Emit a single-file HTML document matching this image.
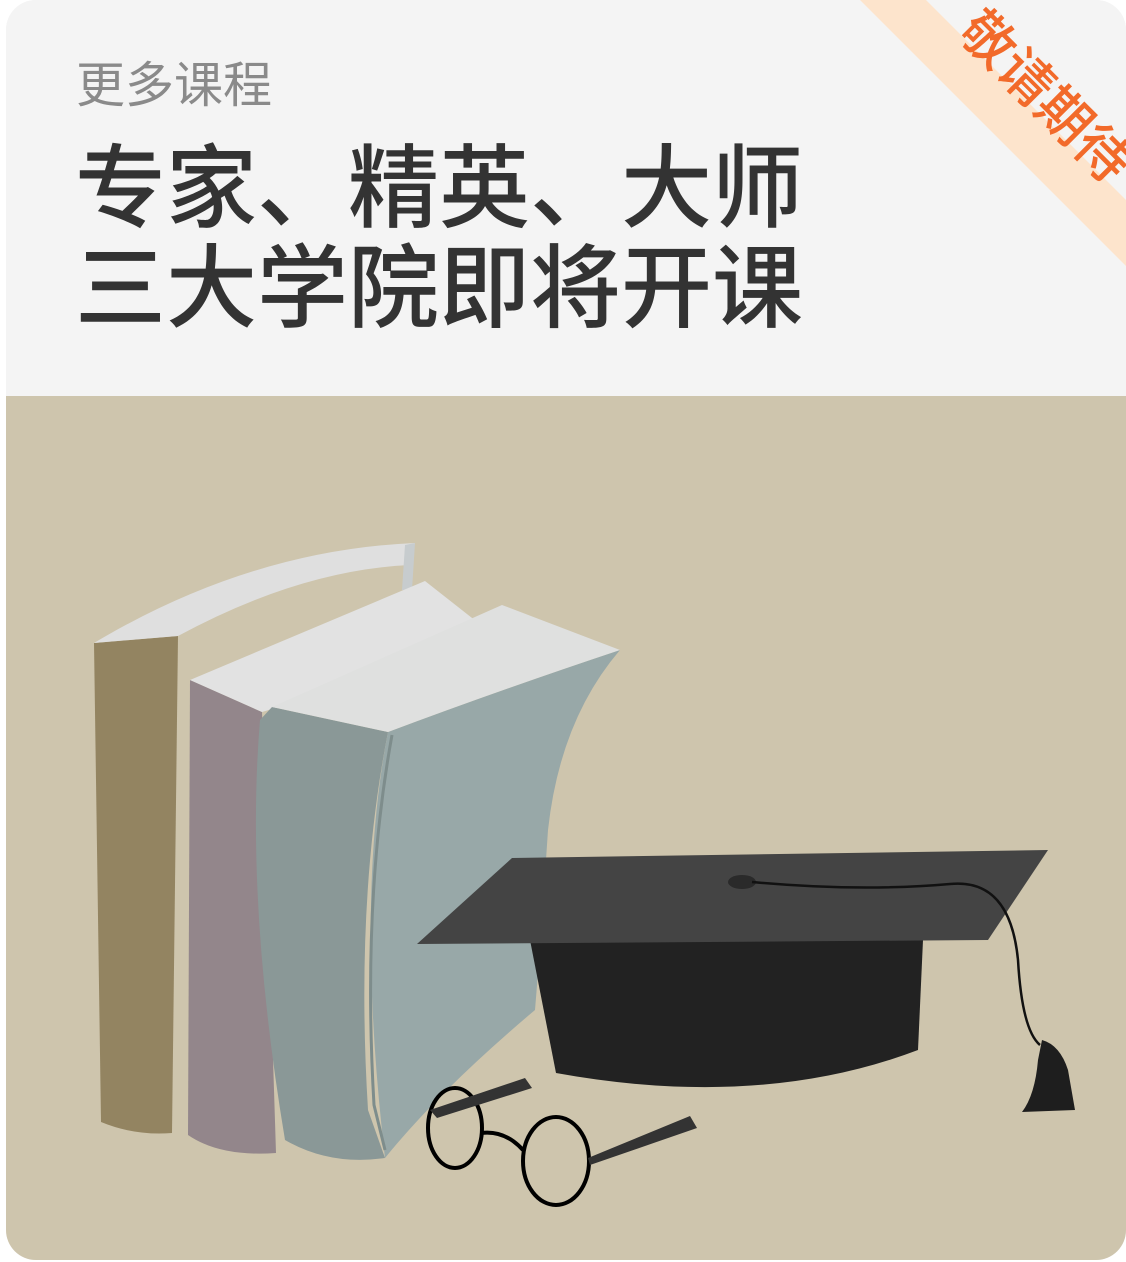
<!DOCTYPE html>
<html><head><meta charset="utf-8">
<style>
html,body{margin:0;padding:0;background:#fff;}
body{width:1126px;height:1262px;position:relative;overflow:hidden;font-family:"Liberation Sans","Noto Sans CJK SC",sans-serif;}
#card{position:absolute;left:6px;top:0;width:1120px;height:1260px;border-radius:30px;overflow:hidden;background:#f4f4f4;}
#top{position:absolute;left:0;top:0;width:1120px;height:396px;background:#f4f4f4;}
#sub{position:absolute;left:70px;top:54px;font-size:49px;color:#8a8a8a;line-height:64px;}
#title{position:absolute;left:69px;top:140px;font-size:91px;color:#333;line-height:100px;font-weight:500;letter-spacing:0;}
#ribbon{position:absolute;left:0;top:0;width:1120px;height:396px;}
#bottom{position:absolute;left:0;top:396px;width:1120px;height:864px;background:#cec5ad;}
</style></head><body>
<div id="card">
 <div id="top"></div>
 <svg id="ribbon" width="1120" height="396">
  <polygon points="854,0 920,0 1120,200 1120,266" fill="#fde4cc"/>
  <text x="1026" y="110" transform="rotate(45 1026 110)" text-anchor="middle" font-size="54" fill="#f26a2a" font-family="Liberation Sans, Noto Sans CJK SC, sans-serif" font-weight="500">敬请期待</text>
 </svg>
 <div id="sub">更多课程</div>
 <div id="title">专家、精英、大师<br>三大学院即将开课</div>
 <div id="bottom">
  <svg width="1120" height="864" viewBox="6 396 1120 864">
   <path d="M94,643 L178,636 L172,1133 Q135,1136 101,1122 Z" fill="#938461"/>
   <path d="M94,643 Q250,550 415,543 L410,565 Q300,570 178,636 Z" fill="#dfdfdf"/>
   <path d="M405,545 L415,543 L412,590 L402,590 Z" fill="#c7ccce"/>
   <path d="M190,680 L262,712 L276,1153 Q220,1157 188,1135 Z" fill="#93868b"/>
   <path d="M190,680 L425,581 L500,640 L262,712 Z" fill="#e2e2e2"/>
   <path d="M272,707 L388,732 Q355,900 368,1110 L385,1158 Q330,1166 285,1140 Q245,900 260,720 Z" fill="#8a9897"/>
   <path d="M388,732 Q500,690 620,650 Q560,720 548,830 Q540,950 535,1010 Q440,1090 385,1158 Q355,900 388,732 Z" fill="#98a8a8"/>
   <path d="M272,707 L502,605 L620,650 Q500,690 388,732 Z" fill="#dfe0df"/>
   <path d="M392,735 Q362,900 374,1105 L385,1150" fill="none" stroke="#7e8d8c" stroke-width="3"/>
   <path d="M530,940 L923,940 L918,1050 Q760,1110 556,1073 Z" fill="#222"/>
   <polygon points="512,858 1048,850 988,940 417,944" fill="#444"/>
   <ellipse cx="742" cy="882" rx="14" ry="7" fill="#2a2a2a"/>
   <path d="M752,882 Q860,892 950,884 Q1010,878 1018,960 Q1022,1030 1040,1045" fill="none" stroke="#111" stroke-width="2.5"/>
   <path d="M1042,1040 Q1060,1045 1068,1070 L1075,1110 L1022,1112 Q1035,1095 1038,1060 Z" fill="#1e1e1e"/>
   <g fill="none" stroke="#000" stroke-width="4">
    <ellipse cx="455" cy="1128" rx="27" ry="40"/>
    <ellipse cx="556" cy="1161" rx="33" ry="44"/>
    <path d="M481,1133 Q505,1130 523,1150"/>
   </g>
   <path d="M430,1110 L525,1078 L532,1088 L437,1118 Z" fill="#333"/>
   <path d="M588,1158 L690,1116 L697,1128 L590,1165 Z" fill="#333"/>
  </svg>
 </div>
</div>
</body></html>
